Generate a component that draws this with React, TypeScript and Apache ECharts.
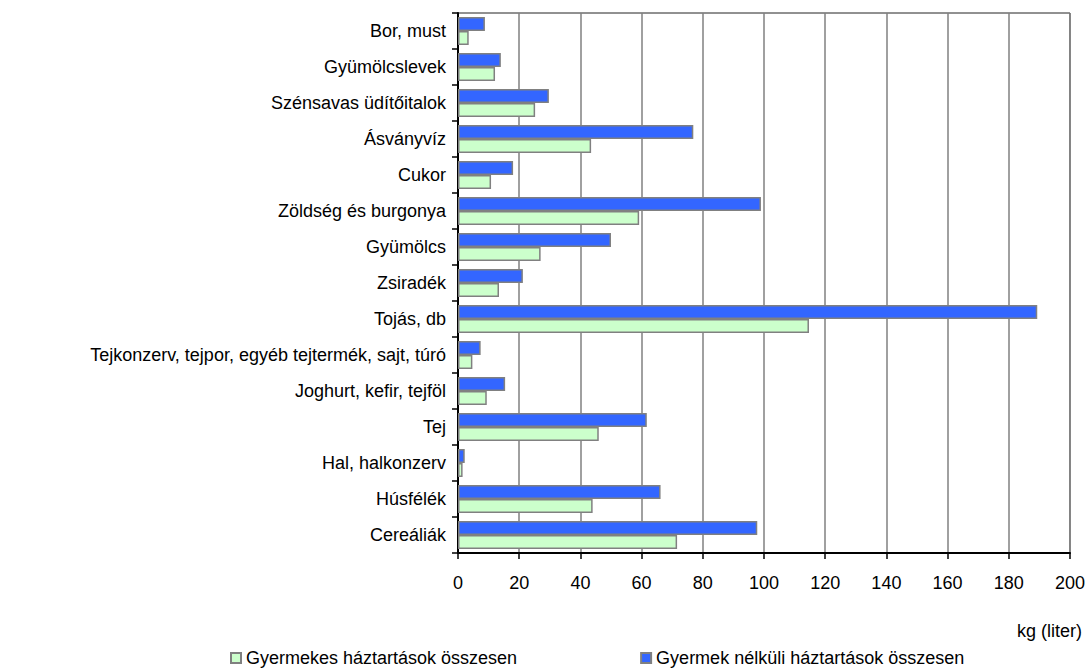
import React, { useEffect, useRef } from "react";
import * as echarts from "echarts";

const categories = [
  "Bor, must",
  "Gyümölcslevek",
  "Szénsavas üdítőitalok",
  "Ásványvíz",
  "Cukor",
  "Zöldség és burgonya",
  "Gyümölcs",
  "Zsiradék",
  "Tojás, db",
  "Tejkonzerv, tejpor, egyéb tejtermék, sajt, túró",
  "Joghurt, kefir, tejföl",
  "Tej",
  "Hal, halkonzerv",
  "Húsfélék",
  "Cereáliák",
];

const withoutChildren = [8.8, 14, 29.7, 76.9, 18, 99, 50, 21.2, 189.3, 7.4, 15.4, 61.7, 2.2, 66.2, 97.8];
const withChildren = [3.5, 12.1, 25.2, 43.5, 10.8, 59.2, 27, 13.4, 114.7, 4.7, 9.4, 46, 1.5, 44, 71.6];

const seriesNames = ["Gyermekes háztartások összesen", "Gyermek nélküli háztartások összesen"];
const xTicks = { min: 0, max: 200, interval: 20 };
const unitLabel = "kg (liter)";

export default function App() {
  const ref = useRef<HTMLDivElement>(null);
  useEffect(() => {
    if (!ref.current) return;
    const chart = echarts.init(ref.current, null, { renderer: "svg" });
    const font = "Liberation Sans, Arial, sans-serif";
    chart.setOption({
      animation: false,
      backgroundColor: "#fff",
      textStyle: { fontFamily: font, color: "#000" },
      grid: {
        left: 458,
        right: 18,
        top: 13,
        bottom: 117,
        show: true,
        borderColor: "#222",
        borderWidth: 1,
        backgroundColor: "transparent",
      },
      xAxis: {
        type: "value",
        min: xTicks.min,
        max: xTicks.max,
        interval: xTicks.interval,
        axisLine: { show: true, lineStyle: { color: "#000", width: 2 } },
        axisTick: { show: true, length: 6, lineStyle: { color: "#000", width: 1.5 } },
        axisLabel: { fontSize: 18, color: "#000", fontFamily: font, margin: 21 },
        splitLine: { show: true, lineStyle: { color: "#808080", width: 1.5 } },
      },
      yAxis: {
        type: "category",
        data: categories,
        inverse: true,
        axisLine: { show: true, lineStyle: { color: "#000", width: 2 } },
        axisTick: { show: true, length: 6, lineStyle: { color: "#000", width: 1.5 } },
        axisLabel: { fontSize: 18, color: "#000", fontFamily: font, margin: 12 },
        splitLine: { show: false },
      },
      legend: {
        data: seriesNames,
        left: 230,
        top: 649,
        padding: 0,
        itemWidth: 10,
        itemHeight: 10,
        itemGap: 123,
        icon: "rect",
        textStyle: { fontSize: 18, color: "#000", fontFamily: font },
      },
      graphic: [
        {
          type: "text",
          right: 6,
          top: 622,
          style: { text: unitLabel, fontSize: 18, fill: "#000", fontFamily: font },
        },
      ],
      series: [
        {
          name: seriesNames[1],
          type: "bar",
          data: withoutChildren,
          barWidth: 14,
          barGap: "0%",
          itemStyle: { color: "#3366FF", borderColor: "#808080", borderWidth: 1.5 },
        },
        {
          name: seriesNames[0],
          type: "bar",
          data: withChildren,
          barWidth: 14,
          barGap: "0%",
          itemStyle: { color: "#CCFFCC", borderColor: "#808080", borderWidth: 1.5 },
        },
      ],
    });
    return () => chart.dispose();
  }, []);
  return (
    <div
      ref={ref}
      style={{ position: "fixed", left: 0, top: 0, width: 1088, height: 670 }}
    />
  );
}
